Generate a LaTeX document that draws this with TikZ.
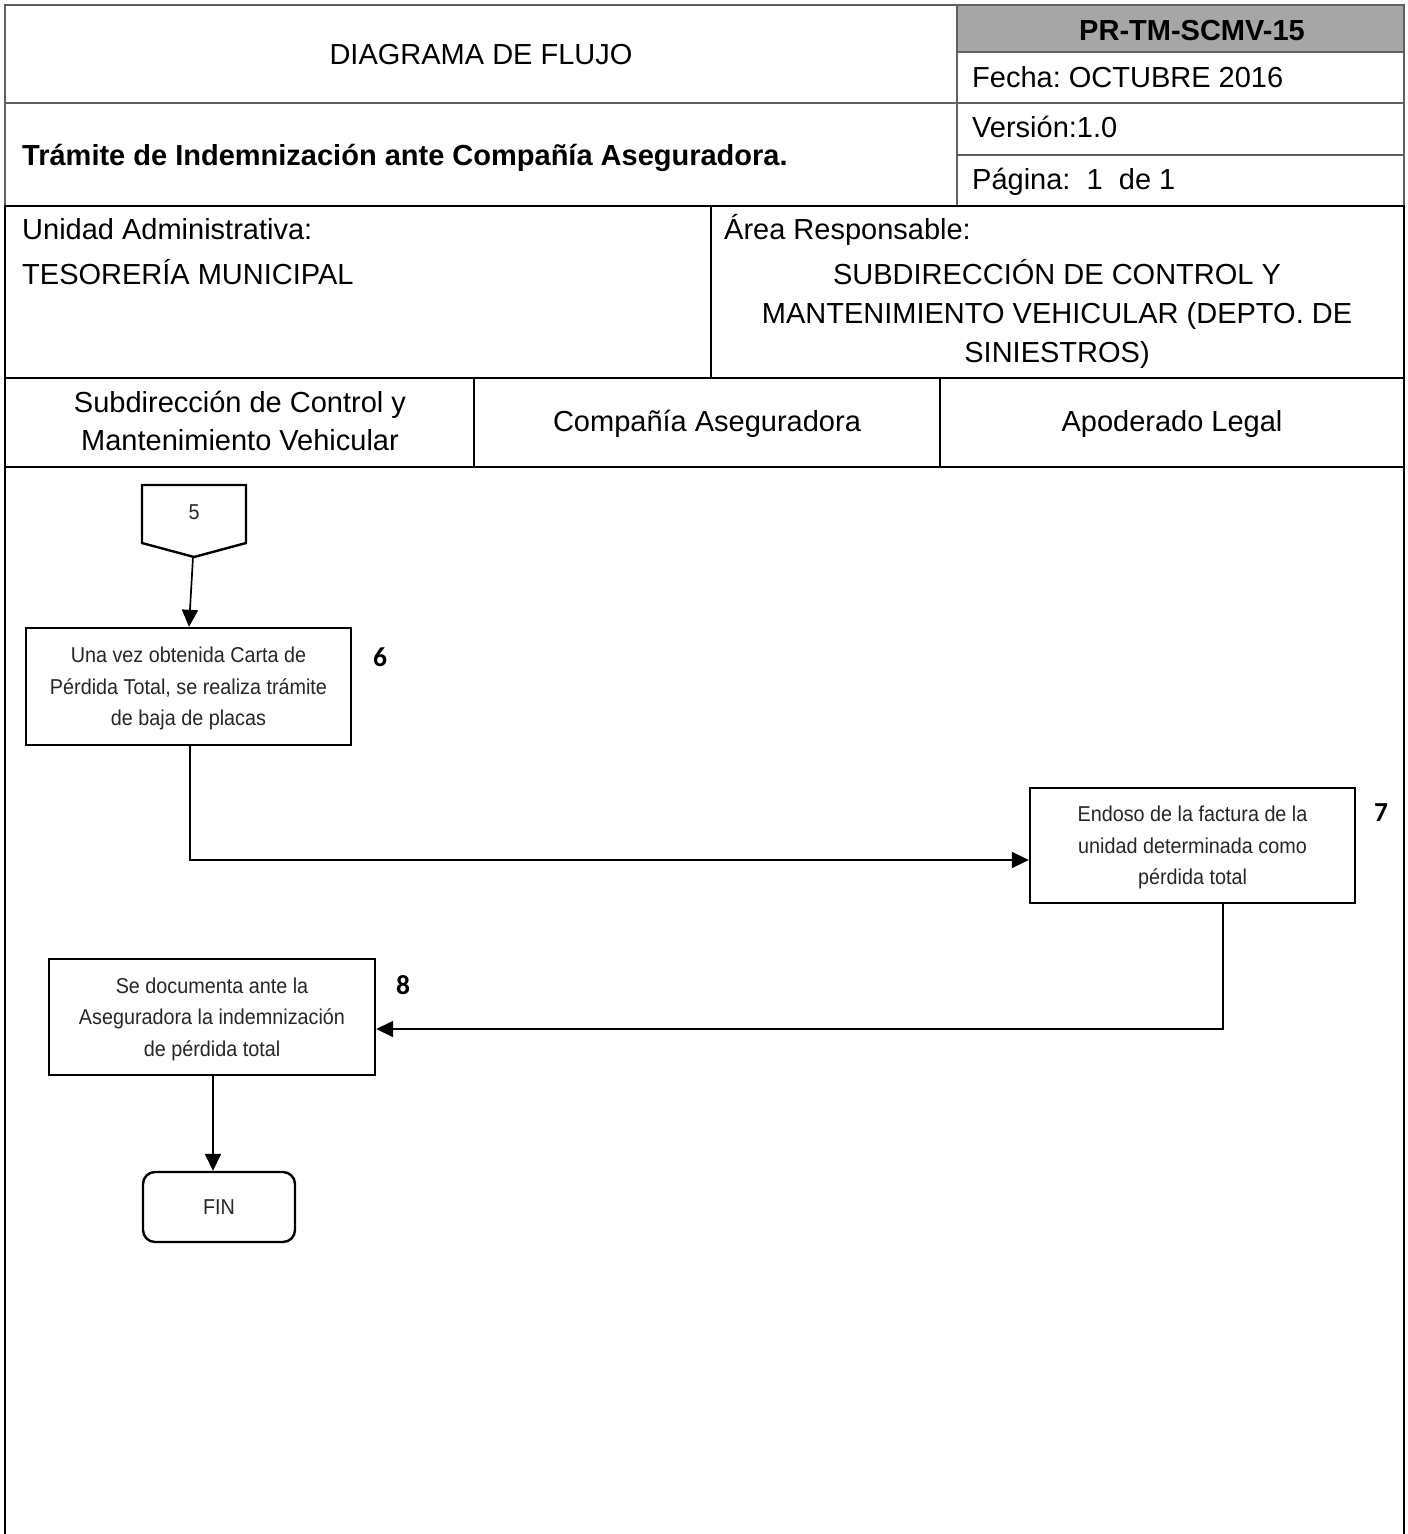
\documentclass[tikz,border=0pt]{standalone}
\usepackage{fontspec}
\setmainfont{Liberation Sans}
\newfontfamily\flowfont[FakeStretch=0.92]{Liberation Sans}
\newfontfamily\numfont{Carlito}
\usetikzlibrary{arrows.meta}
\definecolor{hdrline}{RGB}{96,96,96}
\definecolor{band}{RGB}{166,166,166}
\definecolor{flowtext}{RGB}{38,38,38}
\frenchspacing
\begin{document}
\begin{tikzpicture}[x=1pt,y=-1pt,
  hdr/.style={font=\fontsize{29}{38}\selectfont, inner sep=0pt, text height=20.8pt, text depth=0pt},
  hdrb/.style={hdr, font=\fontsize{29}{38}\selectfont\bfseries},
  gline/.style={draw=hdrline, line width=1.6pt, line cap=rect},
  bline/.style={draw=black, line width=1.8pt, line cap=rect},
  proc/.style={draw=black, line width=2.4pt, align=center, inner sep=0pt,
    font=\flowfont\fontsize{21.5}{31.5}\selectfont, text=flowtext,
    text height=78.4pt, text depth=0pt},
  num/.style={font=\numfont\bfseries\fontsize{27.5}{30}\selectfont, inner sep=0pt},
  conn/.style={line width=1.7pt, -{Triangle[length=17pt,width=16pt]}}
]
\useasboundingbox (0,0) rectangle (1408,1534);
% header band
\fill[band] (957,5) rectangle (1404,52);
% gray header lines
\draw[gline] (5,5) -- (1404,5);
\draw[gline] (5,5) -- (5,206);
\draw[gline] (1404,5) -- (1404,206);
\draw[gline] (957,5) -- (957,206);
\draw[gline] (957,52) -- (1404,52);
\draw[gline] (5,103) -- (1404,103);
\draw[gline] (957,155) -- (1404,155);
% black lines
\draw[bline] (5,206) -- (1404,206);
\draw[bline] (711,206) -- (711,378);
\draw[bline] (5,378) -- (1404,378);
\draw[bline] (474,378) -- (474,467);
\draw[bline] (940,378) -- (940,467);
\draw[bline] (5,467) -- (1404,467);
\draw[bline] (5,206) -- (5,1540);
\draw[bline] (1404,206) -- (1404,1540);
% header texts
\node[hdr] (t1) at (481,54) {DIAGRAMA DE FLUJO};
\node[hdrb] (code) at (1192,30) {PR-TM-SCMV-15};
\node[hdr, anchor=west] (fecha) at (972,77) {Fecha: OCTUBRE 2016};
\node[hdr, anchor=west] (ver) at (972,127) {Versión:1.0};
\node[hdr, anchor=west] (pag) at (972,179) {Página:\ \ 1\ \ de 1};
\node[hdrb, anchor=west] (title) at (22,155) {Trámite de Indemnización ante Compañía Aseguradora.};
\node[hdr, anchor=west] (ua) at (22,229) {Unidad Administrativa:};
\node[hdr, anchor=west] (tes) at (22,274) {TESORERÍA MUNICIPAL};
\node[hdr, anchor=west] (ar) at (724,229) {Área Responsable:};
\node[hdr, align=center, font=\fontsize{29}{39}\selectfont, text height=98.8pt] (sub) at (1057,313) {SUBDIRECCIÓN DE CONTROL Y\\MANTENIMIENTO VEHICULAR (DEPTO. DE\\SINIESTROS)};
\node[hdr, align=center, text height=58.8pt] (lane1) at (240,421) {Subdirección de Control y\\Mantenimiento Vehicular};
\node[hdr] (lane2) at (707,421) {Compañía Aseguradora};
\node[hdr] (lane3) at (1172,421) {Apoderado Legal};
% off-page connector 5
\draw[line width=2.4pt, line join=miter] (142,485) -- (246,485) -- (246,543) -- (194,557) -- (142,543) -- cycle;
\node[font=\flowfont\fontsize{21.5}{26}\selectfont, text=flowtext, inner sep=0pt] (c5) at (194,512) {5};
\coordinate (c5tip) at (193,557);
% process boxes
\node[proc, minimum width=325pt, minimum height=117pt] (b6) at (188.5,686.5) {Una vez obtenida Carta de\\Pérdida Total, se realiza trámite\\de baja de placas};
\node[num] (n6) at (380,657) {6};
\node[proc, minimum width=325pt, minimum height=115pt] (b7) at (1192.5,845.5) {Endoso de la factura de la\\unidad determinada como\\pérdida total};
\node[num] (n7) at (1381,813) {7};
\node[proc, minimum width=326pt, minimum height=116pt] (b8) at (212,1017) {Se documenta ante la\\Aseguradora la indemnización\\de pérdida total};
\node[num] (n8) at (403,985) {8};
\node[draw=black, line width=2.4pt, rounded corners=12pt, minimum width=152pt, minimum height=70pt, inner sep=0pt,
  font=\flowfont\fontsize{21.5}{26}\selectfont, text=flowtext] (fin) at (219,1207) {FIN};
% connectors
\coordinate (j1) at (190,860);
\coordinate (j2) at (1223,1029);
\draw[conn] (c5tip) -- (b6.north -| 189,0);
\draw[conn] (b6.south -| j1) -- (j1) -- (b7.west |- j1);
\draw[conn] (b7.south -| j2) -- (j2) -- (b8.east |- j2);
\draw[conn] (b8.south -| 213,0) -- (fin.north -| 213,0);
\end{tikzpicture}
\end{document}
